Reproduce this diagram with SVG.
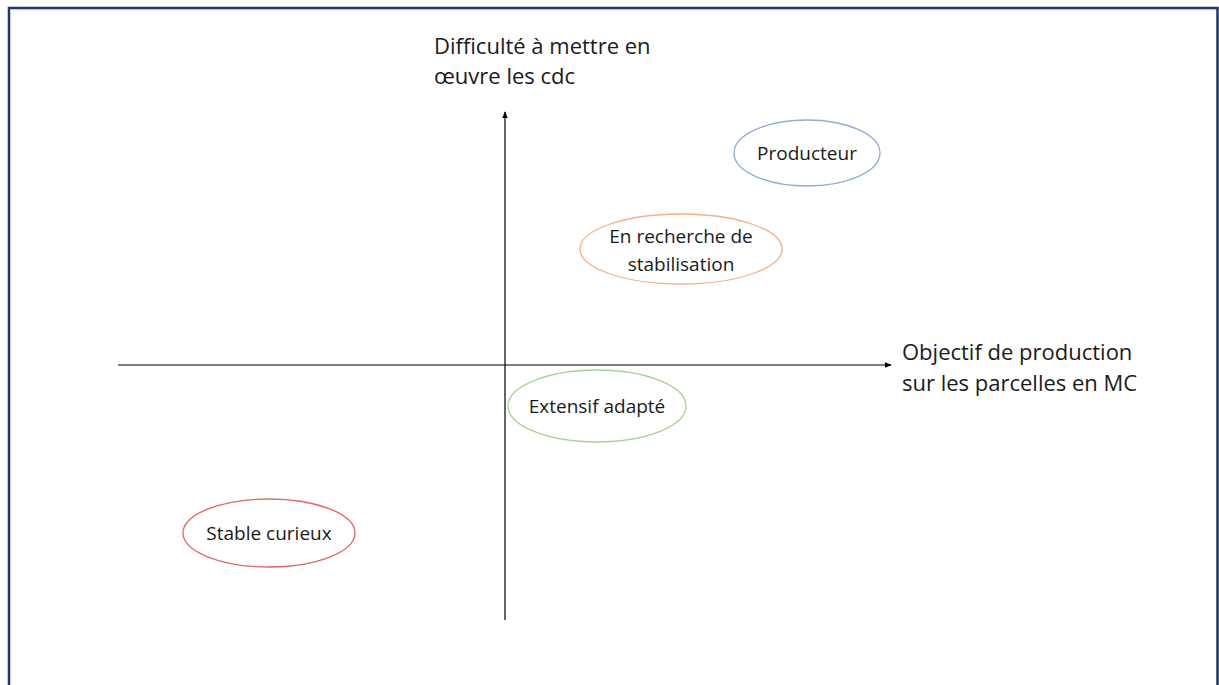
<svg xmlns="http://www.w3.org/2000/svg" width="1219" height="685" viewBox="0 0 1219 685">
<defs>
<style>
.t{font-family:"Open Sans","Liberation Sans",sans-serif;fill:#1a1a1a}
.ax{font-size:22px}
.nd{font-size:19px}
.ax-line{stroke:#000;stroke-width:1.2;fill:none}
.el{fill:#fff;stroke-width:1.3}
</style>
<marker id="arr" viewBox="0 0 10 10" refX="9" refY="5" markerWidth="7" markerHeight="7" orient="auto" markerUnits="userSpaceOnUse">
<path d="M0,1 L10,5 L0,9 Z" fill="#000"/>
</marker>
</defs>
<rect x="0" y="0" width="1219" height="685" fill="#fff"/>
<path d="M9,700 V8 H1217.5 V700" fill="none" stroke="#1f3868" stroke-width="2.5"/>
<line x1="10" y1="9.8" x2="1216" y2="9.8" stroke="#b4c7e7" stroke-width="1"/>
<g id="connectors">
<line class="ax-line" x1="505" y1="620" x2="505" y2="112" marker-end="url(#arr)"/>
<line class="ax-line" x1="118" y1="365" x2="891" y2="365" marker-end="url(#arr)"/>
</g>
<g id="label-y">
<text class="t ax" x="434" y="54">Difficulté à mettre en</text>
<text class="t ax" x="434" y="84">œuvre les cdc</text>
</g>
<g id="label-x">
<text class="t ax" x="902" y="360">Objectif de production</text>
<text class="t ax" x="902" y="391">sur les parcelles en MC</text>
</g>
<g id="producteur">
<ellipse class="el" cx="807" cy="153" rx="73" ry="33" stroke="#8faadc"/>
<text class="t nd" x="807" y="160" text-anchor="middle">Producteur</text>
</g>
<g id="recherche">
<ellipse class="el" cx="681" cy="249" rx="101" ry="35" stroke="#f4b183"/>
<text class="t nd" x="681" y="243" text-anchor="middle">En recherche de</text>
<text class="t nd" x="681" y="271" text-anchor="middle">stabilisation</text>
</g>
<g id="extensif">
<ellipse class="el" cx="597" cy="406" rx="89" ry="36" stroke="#a9d18e"/>
<text class="t nd" x="597" y="413" text-anchor="middle">Extensif adapté</text>
</g>
<g id="stable">
<ellipse class="el" cx="269" cy="533" rx="86" ry="34" stroke="#e06666"/>
<text class="t nd" x="269" y="540" text-anchor="middle">Stable curieux</text>
</g>
</svg>
